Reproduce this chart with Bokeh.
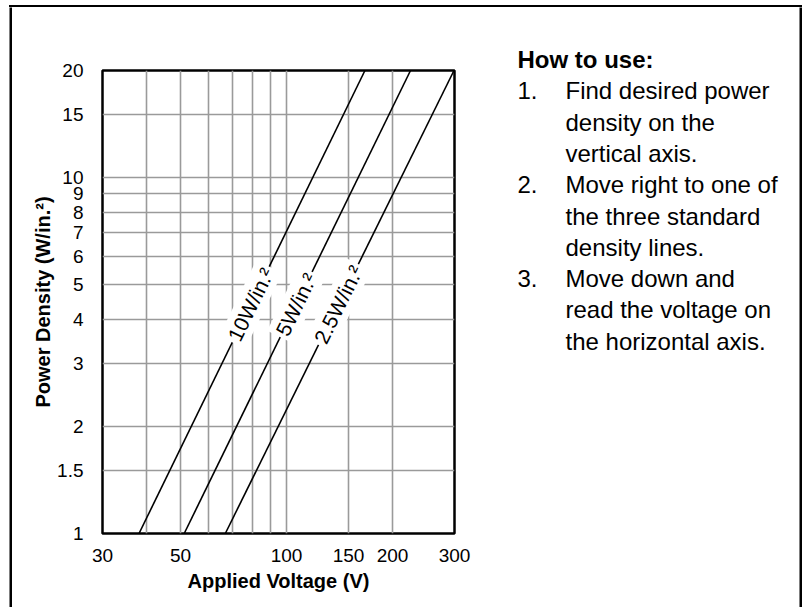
import math
from bokeh.plotting import figure
from bokeh.layouts import row, column
from bokeh.models import (FixedTicker, CustomJSTickFormatter, Label, Range1d, Spacer, ColumnDataSource)
from bokeh.core.properties import value
from bokeh.embed import file_html
from bokeh.resources import INLINE

# ---------------- data ----------------
power_ends = [1, 20]                 # W/in.^2 at bottom and top of chart
volts_10 = [38.1, 167]               # 10 W/in.^2 line
volts_5 = [51.2, 225]                # 5 W/in.^2 line
volts_25 = [67, 299]                 # 2.5 W/in.^2 line
line_names = ["10W/in.²", "5W/in.²", "2.5W/in.²"]
label_power = 4.4                    # where the line labels sit

x_ticks = [30, 40, 50, 60, 70, 80, 90, 100, 150, 200, 300]
x_tick_labels = ["30", "", "50", "", "", "", "", "100", "150", "200", "300"]
y_ticks = [1, 1.5, 2, 3, 4, 5, 6, 7, 8, 9, 10, 15, 20]
y_tick_labels = ["1", "1.5", "2", "3", "4", "5", "6", "7", "8", "9", "10", "15", "20"]

how_title = "How to use:"
step_nums = ["1.", "2.", "3."]
step_lines = [["Find desired power", "density on the", "vertical axis."],
              ["Move right to one of", "the three standard", "density lines."],
              ["Move down and", "read the voltage on", "the horizontal axis."]]

x_label = "Applied Voltage (V)"
y_label = "Power Density (W/in.²)"

FONT = "Liberation Sans"

# ---------------- layout constants ----------------
H = 600                       # height of the main row
W1 = 460                      # chart figure width
W2 = 327                      # text panel width
BAR = 3                       # outer box side thickness
LEFT = 9                      # blank space left of the box
FL, FT, FW, FH = 90, 63, 352, 463   # chart frame inside chart figure


def panel(w, h, fill="white"):
    f = figure(width=w, height=h, x_range=Range1d(0, w), y_range=Range1d(h, 0),
               title=None, x_axis_location=None, y_axis_location=None, toolbar_location=None,
               output_backend="svg", min_border=0, outline_line_color=None,
               background_fill_color=fill, border_fill_color=fill)
    f.grid.visible = False
    return f


# ---------------- chart ----------------
p = figure(width=W1, height=H, x_axis_type="log", y_axis_type="log",
           x_range=Range1d(x_ticks[0], x_ticks[-1]), y_range=Range1d(y_ticks[0], y_ticks[-1]),
           output_backend="svg", toolbar_location=None,
           min_border_left=FL, min_border_top=FT,
           min_border_right=W1 - FL - FW, min_border_bottom=H - FT - FH)
p.background_fill_color = "white"
p.border_fill_color = "white"
p.outline_line_color = "black"
p.outline_line_width = 2.5

p.xaxis.ticker = FixedTicker(ticks=x_ticks)
p.yaxis.ticker = FixedTicker(ticks=y_ticks)
p.xaxis.formatter = CustomJSTickFormatter(args=dict(t=x_ticks, l=x_tick_labels),
                                          code="const i = t.indexOf(tick); return i >= 0 ? l[i] : '';")
p.yaxis.formatter = CustomJSTickFormatter(args=dict(t=y_ticks, l=y_tick_labels),
                                          code="const i = t.indexOf(tick); return i >= 0 ? l[i] : '';")
for ax in (p.xaxis, p.yaxis):
    ax.axis_line_color = None
    ax.major_tick_line_color = None
    ax.minor_tick_line_color = None
    ax.major_tick_out = 0
    ax.major_tick_in = 0
    ax.minor_tick_out = 0
    ax.major_label_text_font = FONT
    ax.major_label_text_font_size = "19px"
    ax.major_label_text_color = "black"
    ax.axis_label_text_font = FONT
    ax.axis_label_text_font_size = "20px"
    ax.axis_label_text_font_style = "bold"
    ax.axis_label_text_color = "black"
p.xaxis.axis_label = x_label
p.yaxis.axis_label = y_label
p.xaxis.major_label_standoff = 15
p.xaxis.axis_label_standoff = 5
p.yaxis.major_label_standoff = 19
p.yaxis.axis_label_standoff = 0

for g in (p.xgrid, p.ygrid):
    g.grid_line_color = "#9a9a9a"
    g.grid_line_width = 1.6

all_lines = [volts_10, volts_5, volts_25]
for v in all_lines:
    p.line(v, power_ends, line_color="black", line_width=1.6)

lx0, lx1 = math.log10(x_ticks[0]), math.log10(x_ticks[-1])
ly0, ly1 = math.log10(y_ticks[0]), math.log10(y_ticks[-1])
for v, name in zip(all_lines, line_names):
    a = math.log10(v[0]); b = math.log10(v[1])
    pa = math.log10(power_ends[0]); pb = math.log10(power_ends[1])
    f = (math.log10(label_power) - pa) / (pb - pa)
    xv = 10 ** (a + f * (b - a))
    dx = (b - a) / (lx1 - lx0) * FW
    dy = (pb - pa) / (ly1 - ly0) * FH
    ang = math.atan2(dy, dx)
    p.add_layout(Label(x=xv, y=label_power, text=name, angle=ang,
                       text_align="center", text_baseline="middle",
                       text_font=FONT, text_font_size="21px", text_color="black",
                       background_fill_color="white", padding=3))

# ---------------- "How to use" panel ----------------
t = panel(W2, H)
NUM_X, TXT_X, BASE0, STEP = 45, 93, 52, 31.3
t.text(x=[NUM_X], y=[BASE0], text=[how_title], text_font=value(FONT),
       text_font_size="24px", text_font_style="bold", text_color="black",
       text_baseline="alphabetic", text_align="left")
num_x, num_y, num_t, txt_x, txt_y, txt_t = [], [], [], [], [], []
r = 1
for num, lines in zip(step_nums, step_lines):
    num_x.append(NUM_X); num_y.append(BASE0 + STEP * r); num_t.append(num)
    for ln in lines:
        txt_x.append(TXT_X); txt_y.append(BASE0 + STEP * r); txt_t.append(ln)
        r += 1
t.text(x="x", y="y", text="t", source=ColumnDataSource(dict(x=num_x, y=num_y, t=num_t)),
       text_font=value(FONT), text_font_size="24px", text_color="black",
       text_baseline="alphabetic", text_align="left")
t.text(x="x", y="y", text="t", source=ColumnDataSource(dict(x=txt_x, y=txt_y, t=txt_t)),
       text_font=value(FONT), text_font_size="24px", text_color="black",
       text_baseline="alphabetic", text_align="left")

# ---------------- outer box pieces ----------------
TOTAL_W = LEFT + BAR + W1 + W2 + BAR
top_line = row(Spacer(width=LEFT, height=2),
               Spacer(width=TOTAL_W - LEFT, height=2, styles={"background-color": "black"}))
left_bar = panel(BAR, H, fill="black")
right_bar = panel(BAR, H, fill="black")

main = row(Spacer(width=LEFT, height=H), column(left_bar), column(p), column(t), column(right_bar))
page = column(Spacer(width=10, height=5), top_line, main)

open("out.html", "w").write(file_html(page, INLINE))
